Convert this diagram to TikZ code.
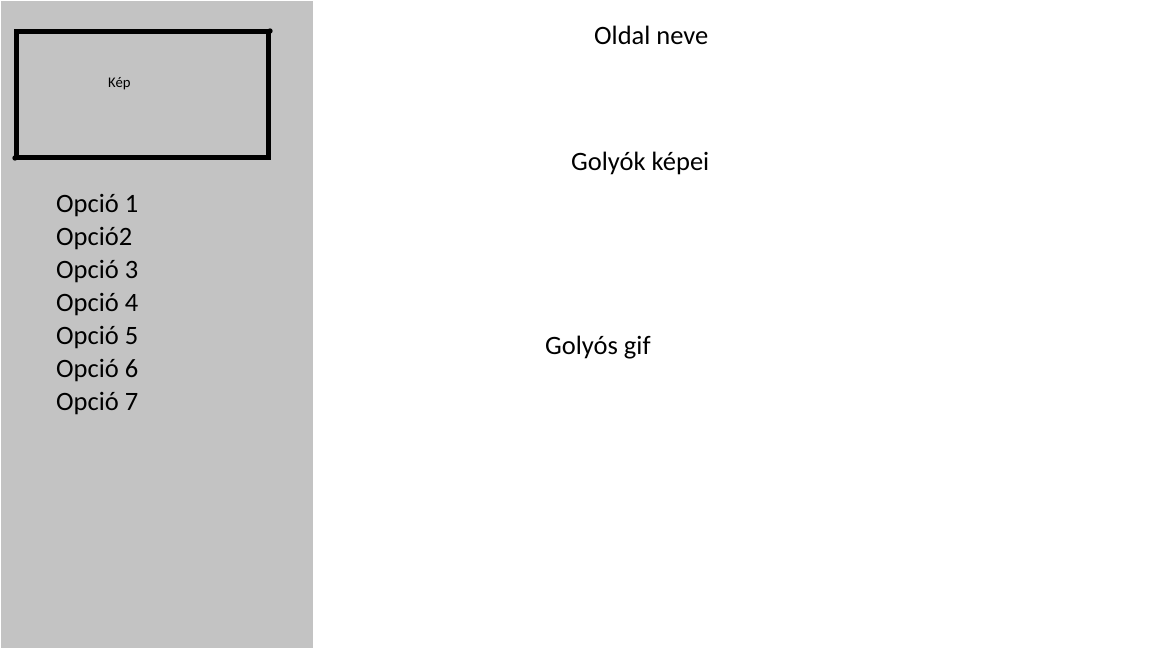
\documentclass[tikz,border=0pt]{standalone}
\usepackage{fontspec}
\setmainfont{Carlito}
\definecolor{panelgray}{HTML}{C3C3C3}
\begin{document}
\begin{tikzpicture}[x=1pt,y=-1pt,
  bigtext/.style={anchor=base west,inner sep=0pt,font=\fontsize{26.5}{30}\selectfont},
  opt/.style={bigtext},
  small/.style={anchor=base west,inner sep=0pt,font=\fontsize{14.7}{17}\selectfont}]
\useasboundingbox (0,0) rectangle (1152,648);
\fill[white] (0,0) rectangle (1152,648);
\fill[panelgray] (1,1) rectangle (313,648);
\draw[line width=5pt,line join=miter] (16,31) -- (268,31) -- (268,157) -- (16,157) -- cycle;
\fill (270,31) circle (2.7pt);
\fill (15,158) circle (2.7pt);
\node[small] (kep) at (108,87) {Kép};
\node[opt] (o1) at (56,212) {Opció 1};
\node[opt] (o2) at (56,245) {Opció2};
\node[opt] (o3) at (56,278) {Opció 3};
\node[opt] (o4) at (56,311) {Opció 4};
\node[opt] (o5) at (56,344) {Opció 5};
\node[opt] (o6) at (56,377) {Opció 6};
\node[opt] (o7) at (56,410) {Opció 7};
\node[bigtext] (title) at (594,44) {Oldal neve};
\node[bigtext] (golyok) at (571,170) {Golyók képei};
\node[bigtext] (gif) at (545,354) {Golyós gif};
\end{tikzpicture}
\end{document}
